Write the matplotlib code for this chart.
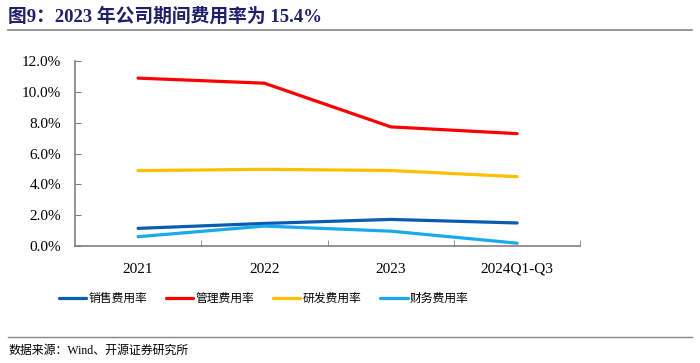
import matplotlib.pyplot as plt
from matplotlib.ticker import FuncFormatter

plt.rcParams['font.family'] = ['Liberation Serif', 'Noto Sans CJK SC']

categories = ['2021', '2022', '2023', '2024Q1-Q3']
sales = [1.15, 1.47, 1.73, 1.50]
admin = [10.89, 10.56, 7.73, 7.29]
rnd = [4.89, 4.98, 4.90, 4.50]
finance = [0.61, 1.30, 0.97, 0.19]
names = ['销售费用率', '管理费用率', '研发费用率', '财务费用率']
colors = ['#0a5cb0', '#ff0000', '#ffc000', '#19a9ec']

fig = plt.figure(figsize=(7, 3.63), dpi=100)
ax = fig.add_axes([0.107, 0.322, 0.722, 0.51])

x = range(len(categories))
for vals, name, c in zip([sales, admin, rnd, finance], names, colors):
    ax.plot(x, vals, color=c, lw=2.3, label=name, solid_capstyle='round')

ax.set_xlim(-0.5, len(categories) - 0.5)
ax.set_ylim(0, 12)
ax.set_yticks([0, 2, 4, 6, 8, 10, 12])
ax.yaxis.set_major_formatter(FuncFormatter(lambda v, p: f'{v:.1f}%'))
ax.set_xticks(list(x))
ax.set_xticklabels(categories)
ax.set_xticks([i + 0.5 for i in x], minor=True)
ax.tick_params(axis='x', which='major', length=0, pad=12, labelsize=11)
ax.tick_params(axis='x', which='minor', direction='in', length=4, color='#808080')
ax.tick_params(axis='y', direction='in', length=4, color='#808080', labelsize=11, pad=10)
for s in ['top', 'right']:
    ax.spines[s].set_visible(False)
for s in ['left', 'bottom']:
    ax.spines[s].set_color('#808080')
    ax.spines[s].set_linewidth(1.2)

fig.legend(loc='center', bbox_to_anchor=(0.377, 0.178), ncol=4, frameon=False,
           prop={'family': ['Noto Sans CJK SC'], 'size': 8.5},
           handlelength=2.3, columnspacing=1.6, handletextpad=0.2)

fig.text(0.012, 0.955, '图9：2023 年公司期间费用率为 15.4%', fontsize=13.5, fontweight='bold',
         color='#1f1f6b', va='center', family=['Liberation Serif', 'Noto Sans CJK SC'])
fig.add_artist(plt.Line2D([0.012, 0.988], [0.918, 0.918], color='#888888', lw=1.2))
fig.add_artist(plt.Line2D([0.012, 0.988], [0.072, 0.072], color='#888888', lw=1.0))
fig.text(0.012, 0.033, '数据来源：Wind、开源证券研究所', fontsize=8.6, va='center',
         family=['Liberation Serif', 'Noto Sans CJK SC'])

plt.savefig('out.png')
